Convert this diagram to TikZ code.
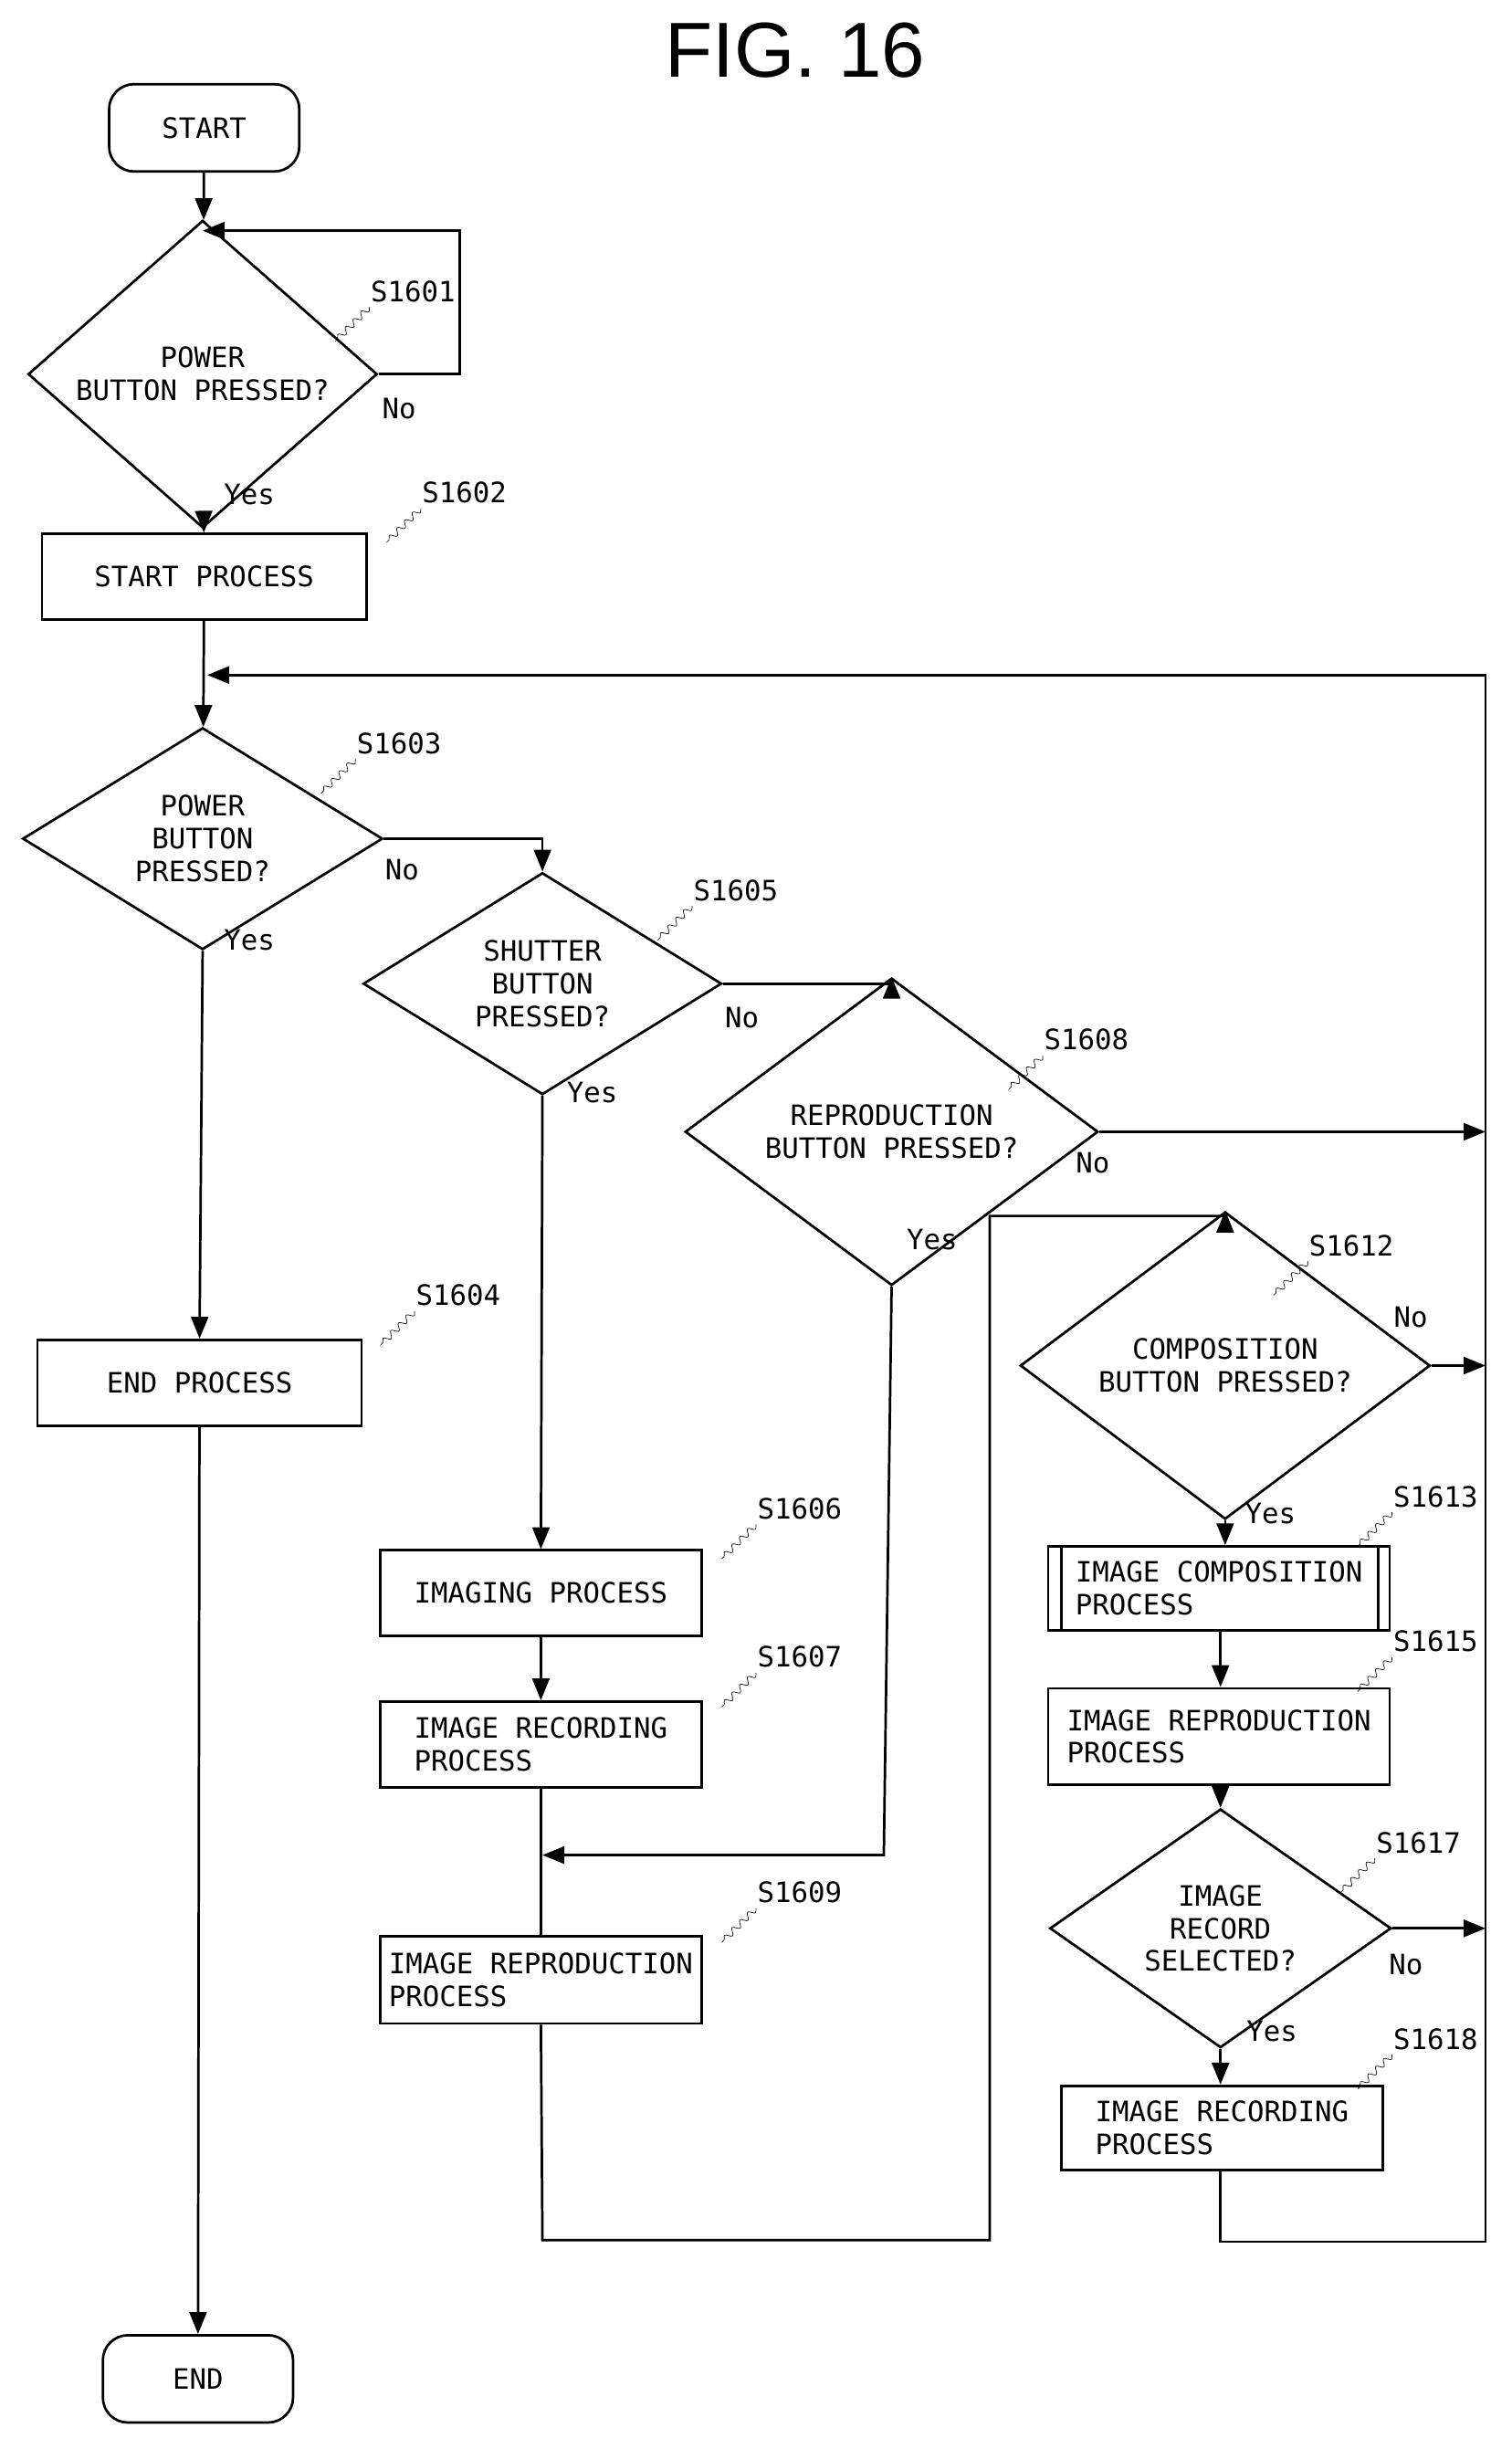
\documentclass[tikz,border=0pt]{standalone}
\usepackage{fontspec}
\setmainfont{DejaVu Sans Mono}
\setsansfont{Liberation Sans}
\usetikzlibrary{shapes.geometric,arrows.meta,decorations.pathmorphing}
\begin{document}
\begin{tikzpicture}[x=1pt,y=-1pt,line width=1.6pt,
  every node/.style={font=\fontsize{18}{21}\selectfont},
  term/.style={draw,rounded corners=16pt,minimum width=122pt,minimum height=56pt},
  proc/.style={draw,minimum width=208pt,minimum height=55pt,align=left},
  dec/.style={draw,diamond,inner sep=0pt,align=center},
  lbl/.style={inner sep=1pt},
  arr/.style={-{Triangle[length=14pt,width=11pt]}},
  sq/.style={thin,decorate,decoration={snake,amplitude=2pt,segment length=7pt}}]
\useasboundingbox (0,0) rectangle (970,1571);
\node[font=\sffamily\fontsize{50}{55}\selectfont] (title) at (510,32) {FIG. 16};
% left column
\node[term] (start) at (131,82) {START};
\node[dec,minimum width=224pt,minimum height=108pt] (d1) at (130,240) {POWER\\BUTTON PRESSED?};
\node[proc] (p2) at (131,370) {START PROCESS};
\node[dec,minimum width=231pt,minimum height=112pt] (d3) at (130,538) {POWER\\BUTTON\\PRESSED?};
\node[proc] (p4) at (128,887) {END PROCESS};
\node[term] (end) at (127,1526) {END};
% middle
\node[dec,minimum width=230pt,minimum height=106pt] (d5) at (348,631) {SHUTTER\\BUTTON\\PRESSED?};
\node[proc,minimum width=206pt] (p6) at (347,1022) {IMAGING PROCESS};
\node[proc,minimum width=206pt] (p7) at (347,1119) {IMAGE RECORDING\\PROCESS};
\node[proc,minimum width=206pt,minimum height=56pt] (p9) at (347,1270) {IMAGE REPRODUCTION\\PROCESS};
\node[dec,minimum width=265pt,minimum height=108pt] (d8) at (572,726) {REPRODUCTION\\BUTTON PRESSED?};
% right
\node[dec,minimum width=263pt,minimum height=112pt] (d12) at (786,876) {COMPOSITION\\BUTTON PRESSED?};
\node[proc,minimum width=219pt,minimum height=54pt] (p13) at (782,1019) {IMAGE COMPOSITION\\PROCESS};
\draw (681,992) -- (681,1046) (884,992) -- (884,1046);
\node[proc,minimum width=219pt,minimum height=62pt] (p15) at (782,1114) {IMAGE REPRODUCTION\\PROCESS};
\node[dec,minimum width=219pt,minimum height=109pt] (d17) at (783,1237) {IMAGE\\RECORD\\SELECTED?};
\node[proc,minimum width=206pt,minimum height=54pt] (p18) at (784,1365) {IMAGE RECORDING\\PROCESS};
\coordinate (R) at (953,433);
\coordinate (Rb) at (953,1438);
% connectors
\draw[arr] (start) -- (d1);
\draw[arr] (d1.east) -- (295,240) -- (295,148) -- (130,148);
\draw[arr] (d1) -- (p2);
\draw[arr] (p2) -- (d3);
\draw[arr] (d3.east) -| (d5.north);
\draw[arr] (d3.south) -- (p4.north);
\draw[arr] (p4) -- (end);
\draw[arr] (d5.east) -| (d8.north);
\draw[arr] (d5.south) -- (p6.north);
\draw[arr] (p6) -- (p7);
\draw (p7.south) -- (p9.north);
\draw[arr] (d8.south) -- (567,1190) -- (348,1190);
\draw[arr] (p9.south) -- (348,1437) -- (635,1437) -- (635,780) -- (786,780) -- (d12.north);
\draw[arr] (d8.east) -- (953,726);
\draw[arr] (d12.east) -- (953,876);
\draw[arr] (d12.south) -- (p13.north -| d12.south);
\draw[arr] (p13.south -| 783,0) -- (p15.north -| 783,0);
\draw[arr] (p15.south -| 783,0) -- (d17.north);
\draw[arr] (d17.east) -- (953,1237);
\draw[arr] (d17.south) -- (p18.north -| d17.south);
\draw[arr] (p18.south -| 783,0) -- (783,1438) -- (Rb) -- (R) -- (133,433);
% labels
\node[lbl] at (256,262) {No};
\node[lbl] at (160,317) {Yes};
\node[lbl] at (258,558) {No};
\node[lbl] at (160,603) {Yes};
\node[lbl] at (476,653) {No};
\node[lbl] at (380,701) {Yes};
\node[lbl] at (701,746) {No};
\node[lbl] at (598,795) {Yes};
\node[lbl] at (905,845) {No};
\node[lbl] at (815,971) {Yes};
\node[lbl] at (902,1260) {No};
\node[lbl] at (816,1303) {Yes};
% step labels
\foreach \t/\x/\y in {S1601/265/187,S1602/298/316,S1603/256/477,S1604/294/831,S1605/472/571,S1606/513/968,S1607/513/1063,S1608/697/667,S1609/513/1214,S1612/867/799,S1613/921/960,S1615/921/1053,S1617/910/1182,S1618/921/1308}{
  \node[lbl] at (\x,\y) {\t};
  \draw[sq] (\x-28,\y+10) -- (\x-50,\y+32);
}
\end{tikzpicture}
\end{document}
